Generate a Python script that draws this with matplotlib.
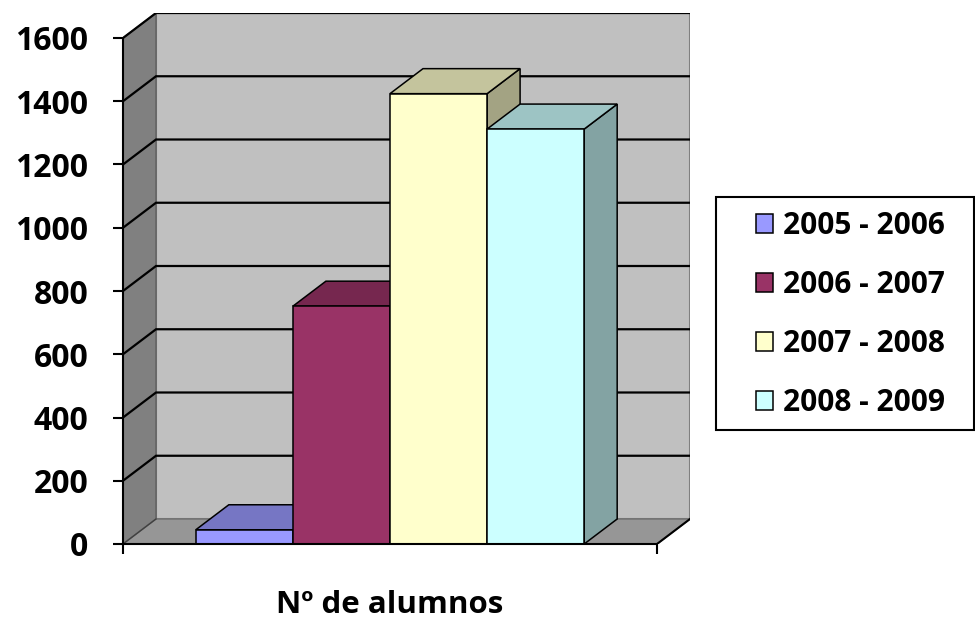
import matplotlib
matplotlib.use("Agg")
import matplotlib.pyplot as plt
from matplotlib.patches import Polygon, Rectangle, Patch
from matplotlib.colors import to_rgb

# ---- data ----
series = ["2005 - 2006", "2006 - 2007", "2007 - 2008", "2008 - 2009"]
values = [45, 752, 1424, 1312]
colors = ["#9999FF", "#993366", "#FFFFCC", "#CCFFFF"]
yticks = [0, 200, 400, 600, 800, 1000, 1200, 1400, 1600]
xlabel = "Nº de alumnos"

plt.rcParams['font.family'] = ['Open Sans', 'DejaVu Sans']
plt.rcParams['font.weight'] = 'bold'

W, H = 975, 621
fig = plt.figure(figsize=(W / 100, H / 100), dpi=100)

# layout (pixels)
x0px, x1px = 123, 657        # front floor extent
y0px, y1px = 544, 38         # value 0 and 1600 on front axis
dxpx, dypx = 33, 25          # depth offset
ymax = 1600
gap = 0.75                   # gap each side in bar widths
xmax = 2 * gap + len(values)
dx = dxpx * xmax / (x1px - x0px)
dy = dypx * ymax / (y0px - y1px)

ax = fig.add_axes([x0px / W, (H - y0px) / H,
                   (x1px - x0px + dxpx) / W, (y0px - y1px + dypx) / H])
ax.set_xlim(0, xmax + dx)
ax.set_ylim(0, ymax + dy)
ax.patch.set_visible(False)

wallc = "#808080"
# back wall
ax.add_patch(Polygon([(dx, dy), (xmax + dx, dy), (xmax + dx, ymax + dy), (dx, ymax + dy)],
                     closed=True, facecolor="#C0C0C0", edgecolor=wallc, lw=1.5, zorder=1))
# side wall
ax.add_patch(Polygon([(0, 0), (dx, dy), (dx, ymax + dy), (0, ymax)],
                     closed=True, facecolor="#808080", edgecolor="#606060", lw=1.0, zorder=1))
# floor
ax.add_patch(Polygon([(0, 0), (xmax, 0), (xmax + dx, dy), (dx, dy)],
                     closed=True, facecolor="#969696", edgecolor="#707070", lw=1.0, zorder=1))
ax.plot([xmax, xmax + dx], [0, dy], color="black", lw=1.5, zorder=2)
ax.plot([0, dx], [0, dy], color="#404040", lw=1.0, zorder=2)

# gridlines
for v in yticks[1:]:
    ax.plot([0, dx, xmax + dx], [v, v + dy, v + dy], color="black", lw=1.6, zorder=2,
            solid_joinstyle='miter')


def shade(c, f):
    r, g, b = to_rgb(c)
    return (r * f, g * f, b * f)


for i, (v, c) in enumerate(zip(values, colors)):
    l = gap + i
    r = l + 1
    # right side
    ax.add_patch(Polygon([(r, 0), (r + dx, dy), (r + dx, v + dy), (r, v)], closed=True,
                         facecolor=shade(c, 0.64), edgecolor="black", lw=1.1, zorder=3 + i))
    # top
    ax.add_patch(Polygon([(l, v), (r, v), (r + dx, v + dy), (l + dx, v + dy)], closed=True,
                         facecolor=shade(c, 0.77), edgecolor="black", lw=1.1, zorder=3 + i))
    # front
    ax.add_patch(Rectangle((l, 0), 1, v, facecolor=c, edgecolor="black", lw=1.1, zorder=3 + i))

# axes
for s in ["top", "right"]:
    ax.spines[s].set_visible(False)
ax.spines["left"].set_bounds(0, ymax)
ax.spines["bottom"].set_bounds(0, xmax)
for s in ["left", "bottom"]:
    ax.spines[s].set_linewidth(1.5)
    ax.spines[s].set_zorder(10)
ax.set_yticks(yticks)
ax.set_yticklabels([str(t) for t in yticks], fontsize=23, fontweight='bold')
ax.tick_params(axis='y', direction='out', length=7, width=1.5, pad=18)
ax.set_xticks([0, xmax])
ax.set_xticklabels(["", ""])
ax.tick_params(axis='x', direction='out', length=7, width=1.5)

ax.annotate(xlabel, xy=(xmax / 2, 0), xycoords='data', xytext=(0, -44),
            textcoords='offset points', ha='center', va='center',
            fontsize=22.5, fontweight='bold')

# legend
fig.patches.append(Rectangle((716 / W, (H - 430) / H), (974 - 716) / W, (430 - 197) / H,
                             transform=fig.transFigure, facecolor="white",
                             edgecolor="black", lw=1.5, zorder=0))
handles = [Patch(facecolor=c, edgecolor="black", lw=1.1) for c in colors]
fig.legend(handles, series, loc='center left', bbox_to_anchor=(756 / W, (H - 314.5) / H),
           frameon=False, prop={'size': 21.5, 'weight': 'bold'},
           handlelength=0.57, handleheight=0.57, handletextpad=0.35,
           labelspacing=0.97, borderpad=0.0, borderaxespad=0.0)

fig.savefig("out.png", dpi=100)
